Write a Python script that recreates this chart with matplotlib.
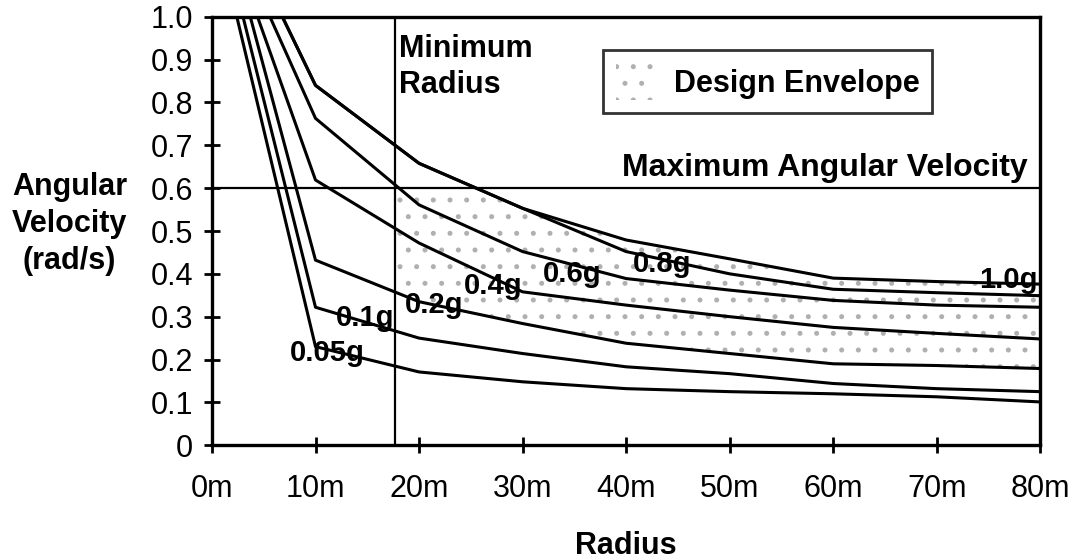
import numpy as np
import matplotlib.pyplot as plt
from matplotlib.patches import Patch

plt.rcParams['font.family'] = ['Liberation Sans', 'DejaVu Sans']
plt.rcParams['hatch.linewidth'] = 1.2

# radius grid (m) and angular velocity (rad/s)
radius = [10, 20, 30, 40, 50, 60, 70, 80]
accel_labels = ['1.0g', '0.8g', '0.6g', '0.4g', '0.2g', '0.1g', '0.05g']
# radius where each curve leaves the top of the plot (omega = 1.0)
top_radius = [6.8, 6.8, 5.6, 4.4, 3.7, 3.0, 2.4]
omega_10g = [0.840, 0.658, 0.553, 0.479, 0.435, 0.390, 0.382, 0.376]
omega_08g = [0.840, 0.658, 0.553, 0.452, 0.400, 0.364, 0.356, 0.349]
omega_06g = [0.763, 0.561, 0.452, 0.389, 0.362, 0.338, 0.327, 0.322]
omega_04g = [0.619, 0.472, 0.358, 0.327, 0.300, 0.275, 0.261, 0.248]
omega_02g = [0.432, 0.335, 0.284, 0.238, 0.214, 0.190, 0.186, 0.179]
omega_01g = [0.322, 0.250, 0.214, 0.183, 0.167, 0.144, 0.132, 0.125]
omega_005g = [0.230, 0.171, 0.148, 0.132, 0.125, 0.120, 0.113, 0.101]
series = [omega_10g, omega_08g, omega_06g, omega_04g, omega_02g, omega_01g, omega_005g]

min_radius = 17.7
max_omega = 0.6

# label placement (radius, omega) for each curve
label_pos = {
    '1.0g': (76.9, 0.386), '0.8g': (43.5, 0.423), '0.6g': (34.8, 0.400),
    '0.4g': (27.2, 0.372), '0.2g': (21.5, 0.327), '0.1g': (14.8, 0.297),
    '0.05g': (11.1, 0.215),
}

fig = plt.figure(figsize=(10.87, 5.6), dpi=100)
ax = fig.add_axes([0.195, 0.205, 0.762, 0.765])

for lab, r0, vals in zip(accel_labels, top_radius, series):
    ax.plot([r0] + radius, [1.0] + vals, color='black', lw=2.2, solid_joinstyle='round')
    lx, ly = label_pos[lab]
    ax.text(lx, ly, lab, fontsize=21, fontweight='bold', ha='center', va='center')

# design envelope: beyond minimum radius, between 0.2g curve and min(0.6, 1.0g curve)
r_fine = np.linspace(min_radius, 80, 300)
lower = np.interp(r_fine, radius, omega_02g)
upper = np.minimum(max_omega, np.interp(r_fine, radius, omega_10g))
ax.fill_between(r_fine, lower, upper, facecolor='none', edgecolor='#b0b0b0',
                hatch='.', linewidth=0, zorder=0)

ax.axhline(max_omega, color='black', lw=1.6)
ax.axvline(min_radius, color='black', lw=1.6)

ax.text(min_radius + 0.4, 0.96, 'Minimum\nRadius', fontsize=22, fontweight='bold',
        ha='left', va='top', linespacing=1.25)
ax.text(78.8, 0.612, 'Maximum Angular Velocity', fontsize=23, fontweight='bold',
        ha='right', va='bottom')

env = Patch(facecolor='none', edgecolor='#b0b0b0', hatch='.', linewidth=0)
leg = ax.legend([env], ['Design Envelope'], loc='upper left', bbox_to_anchor=(0.472, 0.922),
                borderaxespad=0, fancybox=False, frameon=True,
                prop={'size': 22, 'weight': 'bold'},
                handlelength=1.3, handleheight=1.5, borderpad=0.42, handletextpad=0.6)
leg.get_frame().set_edgecolor('black')
leg.get_frame().set_linewidth(2)

ax.set_xlim(0, 80)
ax.set_ylim(0, 1.0)
ax.set_xticks(range(0, 81, 10))
ax.set_xticklabels([f'{v}m' for v in range(0, 81, 10)])
yt = [i / 10 for i in range(11)]
ax.set_yticks(yt)
ax.set_yticklabels(['0'] + [f'{v:.1f}' for v in yt[1:]])
ax.tick_params(axis='both', direction='inout', length=11, width=2, labelsize=22)
ax.tick_params(axis='x', pad=15)
ax.tick_params(axis='y', pad=8)
for sp in ax.spines.values():
    sp.set_linewidth(2.4)

fig.text(0.064, 0.60, 'Angular\nVelocity\n(rad/s)', fontsize=22, fontweight='bold',
         ha='center', va='center', linespacing=1.3)
ax.text(0.5, -0.235, 'Radius', transform=ax.transAxes, fontsize=22, fontweight='bold',
        ha='center', va='center')

fig.savefig('out.png', dpi=100)
